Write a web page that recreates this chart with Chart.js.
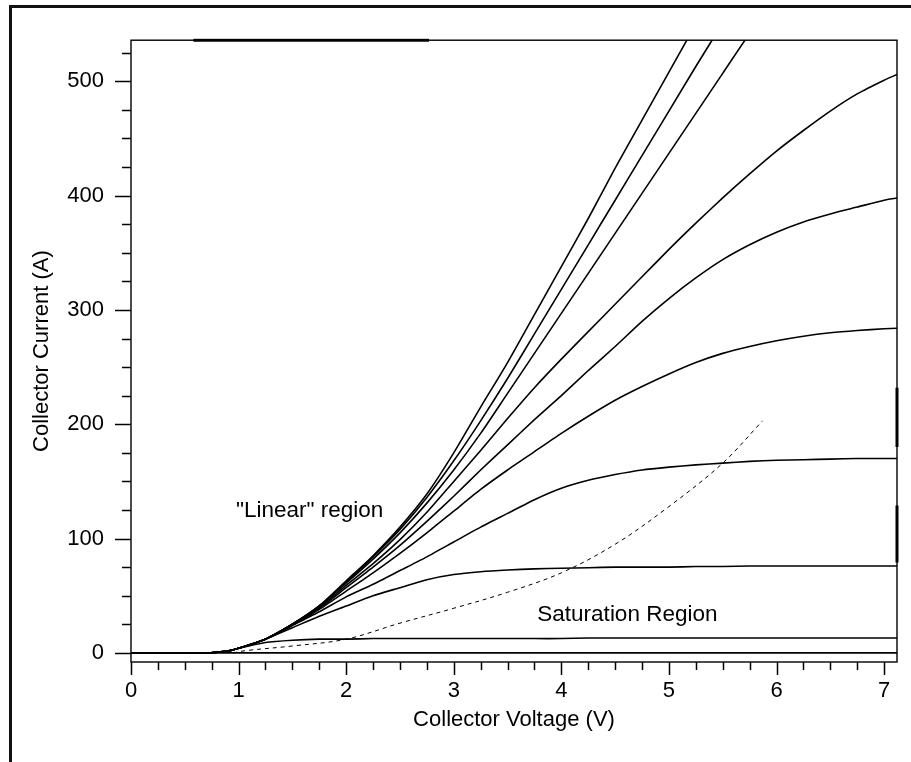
<!DOCTYPE html>
<html>
<head>
<meta charset="utf-8">
<script src="https://cdn.jsdelivr.net/npm/chart.js@4/dist/chart.umd.min.js"></script>
<style>
html,body{margin:0;padding:0;background:#fff;}
#wrap{width:911px;height:762px;position:relative;}
canvas{display:block;}
</style>
</head>
<body>
<div id="wrap"><canvas id="c" width="911" height="762"></canvas></div>
<script>
// ---- data ----
const voltage = [0, 0.7, 0.8, 0.9, 1.0, 1.25, 1.5, 1.75, 2.0, 2.25, 2.5, 2.75, 3.0, 3.25, 3.5, 3.75, 4.0, 4.25, 4.5, 4.75, 5.0, 5.25, 5.5, 5.75, 6.0, 6.25, 6.5, 6.75, 7.0, 7.12];

const curve0A   = [0,0,0,0,0,0,0,0,0,0,0,0,0,0,0,0,0,0,0,0,0,0,0,0,0,0,0,0,0,0];
const curve13A  = [0,0,0.5,1.5,4,9,11,12,12,12.5,12.5,12.5,12.5,12.5,12.5,12.5,12.5,13,13,13,13,13,13,13,13,13,13,13,13,13];
const curve76A  = [0,0,0.5,1.5,4,12,22,32,41,50,57,64,68.5,71,72.5,73.5,74,74.5,75,75,75,75.5,75.5,76,76,76,76,76,76,76];
const curve170A = [0,0,0.5,1.5,4,12,24,36,49,60,72,84,97,110,122,134,144,151,156,160,162.5,164.5,166,167.5,168.5,169,169.5,170,170,170];
const curve283A = [0,0,0.5,1.5,4,12,24,38,54,70,87,105,124,143,160,176,192,207,221,233,244,254,262,268,273,277,280,282,283.5,284];
const curve400A = [0,0,0.5,1.5,4,12,25,39,57,75,94,115,137,160,182,204,225,247,268,290,310,328,344,357,368,377,384,390,396,398];
const curve505A = [0,0,0.5,1.5,4,12,25,40,59,78,99,123,150,177,205,232,257,281,305,329,353,376,398,419,439,457,474,489,501,506];
const curveHigh1 = [0,0,0.5,1.5,4,12,25,41,61,82,105,131,160,192,227,262,297,332,367,402,437,472,507,542,575,null,null,null,null,null];
const curveHigh2 = [0,0,0.5,1.5,4,12,25,41,62,84,108,136,168,203,240,279,318,357,396,435,474,513,551,null,null,null,null,null,null,null];
const curveHigh3 = [0,0,0.5,1.5,4,12,25,41,63,85,110,139,175,215,254,296,338,380,424,466,508,550,null,null,null,null,null,null,null,null];

const boundaryVoltage = [0.95, 1.07, 1.5, 2.0, 2.5, 3.0, 3.5, 4.0, 4.5, 5.0, 5.5, 5.87];
const boundaryCurrent = [0, 2, 6, 12, 26, 39, 53, 70, 95, 128, 166, 203];

// short edge traces visible on the frame of the plot
const topTraceVoltage = [0.58, 2.77];
const topTraceCurrent = [536, 536];
const rightTraceVoltage = [7.12, 7.12];
const rightTraceUpper = [180, 232];
const rightTraceLower = [79, 129];

const xTickValues = [0, 1, 2, 3, 4, 5, 6, 7];
const yTickValues = [0, 100, 200, 300, 400, 500];
const xMinorStep = 0.25;
const yMinorStep = 25;

const annotations = [
  { text: '"Linear" region', v: 1.66, i: 118.7 },
  { text: 'Saturation Region', v: 4.614, i: 27.9 }
];

// ---- build datasets ----
const pts = (xs, ys) => xs.map((x, k) => ({ x: x, y: ys[k] }));
const curves = [curve0A, curve13A, curve76A, curve170A, curve283A, curve400A, curve505A, curveHigh1, curveHigh2, curveHigh3];
const datasets = curves.map(c => ({
  data: pts(voltage, c),
  borderColor: '#000',
  borderWidth: 1.6,
  pointRadius: 0,
  tension: 0.2,
  fill: false,
  spanGaps: false
}));
datasets.push({
  data: pts(boundaryVoltage, boundaryCurrent),
  borderColor: '#000', borderWidth: 1, borderDash: [4, 4],
  pointRadius: 0, tension: 0.35, fill: false
});
datasets.push({ data: pts(topTraceVoltage, topTraceCurrent), borderColor: '#000', borderWidth: 3, pointRadius: 0, clip: 2 });
datasets.push({ data: pts(rightTraceVoltage, rightTraceUpper), borderColor: '#000', borderWidth: 3, pointRadius: 0, clip: 2 });
datasets.push({ data: pts(rightTraceVoltage, rightTraceLower), borderColor: '#000', borderWidth: 3, pointRadius: 0, clip: 2 });

const FONT = '"Liberation Sans", Arial, sans-serif';

const decor = {
  id: 'decor',
  beforeDraw(chart) {
    const ctx = chart.ctx;
    ctx.save();
    ctx.fillStyle = '#fff';
    ctx.fillRect(0, 0, chart.width, chart.height);
    ctx.strokeStyle = '#111';
    ctx.lineWidth = 3;
    ctx.beginPath();
    ctx.moveTo(10.5, chart.height);
    ctx.lineTo(10.5, 6.5);
    ctx.lineTo(chart.width, 6.5);
    ctx.stroke();
    ctx.restore();
  },
  afterDraw(chart) {
    const { ctx, chartArea: a, scales: { x, y } } = chart;
    ctx.save();
    ctx.strokeStyle = '#000';
    ctx.lineWidth = 1.4;
    ctx.strokeRect(a.left, a.top, a.right - a.left, a.bottom - a.top);
    // x ticks
    ctx.lineWidth = 1.5;
    const nX = Math.round((x.max - x.min) / xMinorStep);
    for (let k = 0; k <= nX; k++) {
      const v = x.min + k * xMinorStep;
      if (v > x.max + 1e-9) break;
      const major = xTickValues.some(t => Math.abs(t - v) < 1e-6);
      const px = Math.round(x.getPixelForValue(v)) + 0.5;
      ctx.beginPath();
      ctx.moveTo(px, a.bottom);
      ctx.lineTo(px, a.bottom + (major ? 13 : 8));
      ctx.stroke();
    }
    // y ticks
    for (let v = 0; v <= y.max + 1e-9; v += yMinorStep) {
      const major = yTickValues.some(t => Math.abs(t - v) < 1e-6);
      const py = Math.round(y.getPixelForValue(v)) + 0.5;
      ctx.beginPath();
      ctx.moveTo(a.left, py);
      ctx.lineTo(a.left - (major ? 16 : 9), py);
      ctx.stroke();
    }
    // annotations
    ctx.fillStyle = '#000';
    ctx.font = '22.5px ' + FONT;
    ctx.textAlign = 'center';
    ctx.textBaseline = 'alphabetic';
    annotations.forEach(an => ctx.fillText(an.text, x.getPixelForValue(an.v), y.getPixelForValue(an.i)));
    ctx.restore();
  }
};

new Chart(document.getElementById('c'), {
  type: 'line',
  data: { datasets: datasets },
  options: {
    responsive: false,
    animation: false,
    devicePixelRatio: 1,
    layout: { padding: { left: 0, top: 38.5, right: 14, bottom: 0 } },
    plugins: { legend: { display: false }, tooltip: { enabled: false } },
    scales: {
      x: {
        type: 'linear',
        position: 'bottom',
        min: 0,
        max: 7.12,
        afterBuildTicks: s => { s.ticks = xTickValues.map(v => ({ value: v })); },
        afterFit: s => { s.height = 100; },
        grid: { display: false, drawTicks: false },
        border: { display: false },
        ticks: { color: '#000', padding: 16, maxRotation: 0, autoSkip: false, font: { family: FONT, size: 22 } },
        title: { display: true, text: 'Collector Voltage (V)', color: '#000', font: { family: FONT, size: 22 }, padding: { top: 0, bottom: 29 } }
      },
      y: {
        type: 'linear',
        min: -8,
        max: 536,
        afterBuildTicks: s => { s.ticks = yTickValues.map(v => ({ value: v })); },
        afterFit: s => { s.width = 131; },
        grid: { display: false, drawTicks: false },
        border: { display: false },
        ticks: { color: '#000', padding: 27, autoSkip: false, font: { family: FONT, size: 22 } },
        title: { display: true, text: 'Collector Current (A)', color: '#000', font: { family: FONT, size: 22 }, padding: { top: 29, bottom: 0 } }
      }
    }
  },
  plugins: [decor]
});
</script>
</body>
</html>
